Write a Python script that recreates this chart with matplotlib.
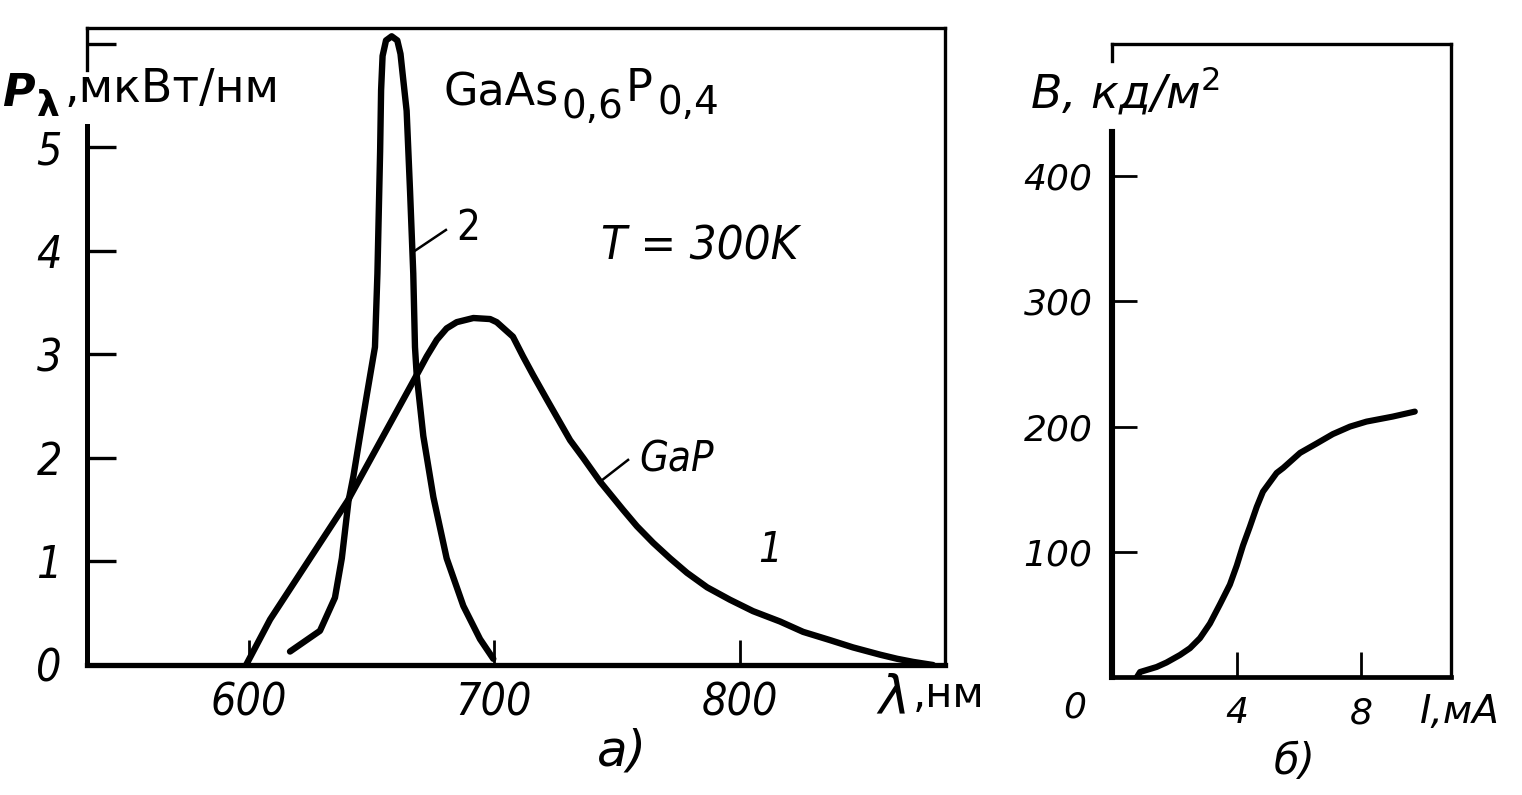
import matplotlib
matplotlib.use("Agg")
import matplotlib.pyplot as plt
from matplotlib import font_manager as fm

# --- data ---
# panel a): spectral power, curve 1 (GaP) and curve 2 (GaAs0.6P0.4)
gap_wl = [599, 608.8, 640.5, 668.5, 672.6, 676.7, 680.7, 684.8, 691.6,
          698.4, 701.1, 707.7, 711.8, 715.9, 721.6, 726.9, 731.0,
          736.3, 743.2, 752.5, 758.2, 764.8, 771.7, 778.6, 786.8, 796.1,
          805.5, 816.5, 825.9, 836.9, 846.2, 857.2, 864.2, 870.7, 878.8]
gap_p = [0.0, 0.44, 1.59, 2.80, 2.98, 3.14, 3.25, 3.31, 3.35,
         3.34, 3.31, 3.17, 2.98, 2.80, 2.56, 2.34, 2.17,
         2.00, 1.77, 1.50, 1.34, 1.18, 1.03, 0.89, 0.75, 0.63,
         0.52, 0.42, 0.32, 0.24, 0.17, 0.10, 0.06, 0.03, 0.0]

gaasp_wl = [616.9, 629.1, 635.2, 638.0, 640.7, 642.7, 645.4, 648.2, 651.5,
            652.5, 653.6, 654.0, 654.6, 656.0, 658.3, 660.6, 661.9, 662.8,
            664.4, 665.8, 667.1, 667.8, 668.5, 671.2, 675.3, 680.7, 687.5,
            694.3, 699.7]
gaasp_p = [0.13, 0.33, 0.65, 1.03, 1.58, 1.82, 2.21, 2.61, 3.07,
           3.78, 4.96, 5.55, 5.88, 6.03, 6.07, 6.03, 5.90, 5.70,
           5.35, 4.57, 3.78, 3.07, 2.80, 2.21, 1.62, 1.03, 0.57,
           0.25, 0.06]

wl_ticks = [600, 700, 800]
p_ticks = [0, 1, 2, 3, 4, 5]

# panel б): luminance vs current
cur_ma = [0.8, 0.9, 1.43, 1.75, 2.18, 2.5, 2.82, 3.14, 3.46, 3.78, 4.0,
          4.2, 4.42, 4.64, 4.84, 5.06, 5.28, 5.49, 6.03, 6.56, 7.08, 7.63,
          8.16, 9.0, 9.71]
lum = [0, 4, 8, 11.6, 17.6, 23, 31, 42.7, 58, 73.8, 89,
       105, 120, 135.8, 148, 155.5, 163, 167, 179, 186.5, 194, 200,
       204, 208, 212]

cur_ticks = [4, 8]
lum_ticks = [100, 200, 300, 400]

W, H = 1522, 795

plt.rcParams['font.family'] = ['DejaVu Sans']
has_cond = any(f.name == 'DejaVu Sans' and f.stretch == 'condensed'
               for f in fm.fontManager.ttflist)
stretch = 'condensed' if has_cond else 'normal'
scale = 1.0 if has_cond else 0.88


def fx(px):
    return px / W


def fy(py):
    return 1 - py / H


fig = plt.figure(figsize=(W / 100, H / 100), dpi=100)
fig.patch.set_facecolor('white')

# ---------- panel a) ----------
ax1 = fig.add_axes([fx(87), fy(665), fx(945) - fx(87), fy(28) - fy(665)])
x0, x1 = 534.2, 883.7
ax1.set_xlim(x0, x1)
ax1.set_ylim(0, 6.15)

ax1.plot(gap_wl, gap_p, color='black', lw=4.6, solid_capstyle='round',
         solid_joinstyle='round')
ax1.plot(gaasp_wl, gaasp_p, color='black', lw=4.6, solid_capstyle='round',
         solid_joinstyle='round')

for side in ['top', 'right']:
    ax1.spines[side].set_linewidth(2.4)
ax1.spines['bottom'].set_linewidth(3.8)
ax1.spines['left'].set_linewidth(3.6)
ax1.spines['left'].set_bounds(0, 5.2)
ax1.plot([x0, x0], [5.74, 6.15], color='black', lw=2.4, clip_on=False)

ax1.set_xticks(wl_ticks)
ax1.set_xticklabels([str(v) for v in wl_ticks])
ax1.set_yticks(p_ticks)
ax1.set_yticklabels([str(v) for v in p_ticks])
ax1.set_yticks([6], minor=True)
ax1.tick_params(axis='both', which='both', direction='in', color='black')
ax1.tick_params(axis='y', which='both', length=21, width=2.4, pad=18)
ax1.tick_params(axis='x', which='both', length=18, width=2.0, pad=12)
for lab in ax1.get_xticklabels() + ax1.get_yticklabels():
    lab.set_fontstretch(stretch)
    lab.set_fontstyle('italic')
    lab.set_fontsize(32 * scale)

# curve labels with leader lines
ax1.plot([667.2, 680.4], [3.99, 4.2], color='black', lw=1.8)
ax1.text(689.5, 4.22, '2', fontsize=30, fontstretch=stretch,
         ha='center', va='center')
ax1.plot([743.2, 754.6], [1.77, 1.98], color='black', lw=1.8)
ax1.text(774.5, 1.98, 'GaP', fontsize=30 * scale, fontstretch=stretch,
         style='italic', ha='center', va='center')
ax1.text(812.4, 1.11, '1', fontsize=30, fontstretch=stretch,
         style='italic', ha='center', va='center')

# ---------- panel б) ----------
ax2 = fig.add_axes([fx(1112), fy(677), fx(1451) - fx(1112), fy(44) - fy(677)])
ax2.set_xlim(0, 10.87)
ax2.set_ylim(0, 505.6)
ax2.plot(cur_ma, lum, color='black', lw=4.4, solid_capstyle='round',
         solid_joinstyle='round')

for side in ['top', 'right']:
    ax2.spines[side].set_linewidth(2.4)
ax2.spines['bottom'].set_linewidth(3.4)
ax2.spines['left'].set_linewidth(4.4)
ax2.spines['left'].set_bounds(0, 435)
ax2.plot([0, 0], [492, 505.6], color='black', lw=2.4, clip_on=False)

ax2.set_xticks(cur_ticks)
ax2.set_xticklabels([str(v) for v in cur_ticks])
ax2.set_yticks(lum_ticks)
ax2.set_yticklabels([str(v) for v in lum_ticks])
ax2.tick_params(axis='both', direction='in', color='black')
ax2.tick_params(axis='y', length=18, width=2.0, pad=14)
ax2.tick_params(axis='x', length=18, width=2.0, pad=14)
for lab in ax2.get_xticklabels() + ax2.get_yticklabels():
    lab.set_fontstyle('italic')
    lab.set_fontsize(26)

# ---------- free text ----------
fig.text(fx(2), fy(106), 'P', fontsize=32, style='italic', weight='bold',
         va='baseline')
fig.text(fx(37), fy(116), 'λ', fontsize=26, weight='bold', va='baseline')
fig.text(fx(64), fy(102), ',мкВт/нм', fontsize=33, va='baseline')

fig.text(fx(443), fy(106), 'GaAs', fontsize=32, va='baseline')
fig.text(fx(561), fy(118), '0,6', fontsize=28, va='baseline')
fig.text(fx(626), fy(101), 'P', fontsize=32, va='baseline')
fig.text(fx(658), fy(114), '0,4', fontsize=28, va='baseline')

fig.text(fx(700), fy(247), 'T = 300K', fontsize=34 * scale, style='italic',
         fontstretch=stretch, ha='center', va='center')

fig.text(fx(878), fy(713), 'λ', fontsize=38, style='italic', va='baseline')
fig.text(fx(913), fy(707), ',нм', fontsize=30, va='baseline')
fig.text(fx(622), fy(752), 'а)', fontsize=36, style='italic',
         ha='center', va='center')

fig.text(fx(1030), fy(108), 'B, кд/м$^2$', fontsize=33, style='italic',
         va='baseline')
fig.text(fx(1075), fy(708), '0', fontsize=26, style='italic',
         ha='center', va='center')
fig.text(fx(1420), fy(723), 'I,мА', fontsize=28, style='italic',
         va='baseline')
fig.text(fx(1295), fy(762), 'б)', fontsize=30, style='italic',
         ha='center', va='center')

fig.savefig('out.png', dpi=100, facecolor='white')
